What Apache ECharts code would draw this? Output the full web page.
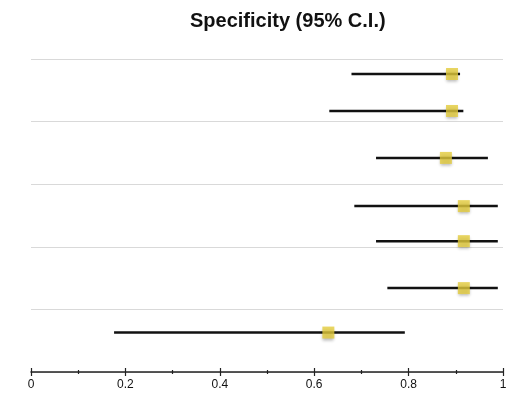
<!DOCTYPE html>
<html>
<head>
<meta charset="utf-8">
<script src="https://cdn.jsdelivr.net/npm/echarts@6/dist/echarts.min.js"></script>
<style>
  html, body { margin: 0; padding: 0; background: #fff; }
  #main { width: 515px; height: 393px; }
</style>
</head>
<body>
<div id="main"></div>
<script>
// row positions along the (inverted) vertical scale, grey separators at 0..4
var rowPos = [0.24, 0.83, 1.58, 2.35, 2.91, 3.66, 4.37]
var estimate = [0.892, 0.892, 0.879, 0.917, 0.917, 0.917, 0.630]
var lower = [0.679, 0.632, 0.731, 0.685, 0.731, 0.755, 0.176]
var upper = [0.909, 0.916, 0.968, 0.989, 0.989, 0.989, 0.792]

var ciData = rowPos.map(function (y, i) { return [lower[i], upper[i], y] })
var pointData = rowPos.map(function (y, i) { return [estimate[i], y] })

var font = 'Liberation Sans, Arial, sans-serif'
var myChart = echarts.init(document.getElementById('main'))
var option = {
  animation: false,
  title: {
    text: 'Specificity (95% C.I.)',
    left: 185,
    top: 6,
    textStyle: { fontFamily: font, fontSize: 20, fontWeight: 'bold', color: '#111' }
  },
  grid: { left: 31, right: 12, top: 59, bottom: 21 },
  xAxis: [
    {
      type: 'value',
      min: 0,
      max: 1,
      interval: 0.2,
      axisLine: { onZero: false, lineStyle: { color: '#222', width: 1.5 } },
      axisTick: { length: 4, lineStyle: { color: '#222', width: 1.2 } },
      minorTick: { show: true, splitNumber: 2, length: 2, lineStyle: { color: '#222', width: 1.2 } },
      axisLabel: { color: '#111', fontSize: 12, margin: 7, fontFamily: font },
      splitLine: { show: false }
    },
    {
      // same scale, draws the upper half of the ticks
      type: 'value',
      position: 'bottom',
      min: 0,
      max: 1,
      interval: 0.2,
      axisLine: { show: false, onZero: false },
      axisTick: { inside: true, length: 4, lineStyle: { color: '#222', width: 1.2 } },
      minorTick: { show: true, splitNumber: 2, length: 2, lineStyle: { color: '#222', width: 1.2 } },
      axisLabel: { show: false },
      splitLine: { show: false }
    }
  ],
  yAxis: {
    type: 'value',
    inverse: true,
    min: 0,
    max: 5,
    interval: 1,
    axisLine: { show: false },
    axisTick: { show: false },
    axisLabel: { show: false },
    splitLine: { lineStyle: { color: '#d9d9d9', width: 1 } }
  },
  series: [
    {
      type: 'custom',
      data: ciData,
      renderItem: function (params, api) {
        var a = api.coord([api.value(0), api.value(2)])
        var b = api.coord([api.value(1), api.value(2)])
        return {
          type: 'line',
          shape: { x1: a[0], y1: a[1], x2: b[0], y2: b[1] },
          style: { stroke: '#111', lineWidth: 2.5 }
        }
      },
      encode: { x: [0, 1], y: 2 },
      z: 2
    },
    {
      type: 'scatter',
      data: pointData,
      symbol: 'rect',
      symbolSize: 12,
      itemStyle: {
        color: '#e4cc3c',
        shadowBlur: 3,
        shadowColor: 'rgba(0,0,0,0.35)',
        shadowOffsetY: 2
      },
      z: 3
    }
  ]
}
myChart.setOption(option)
</script>
</body>
</html>
